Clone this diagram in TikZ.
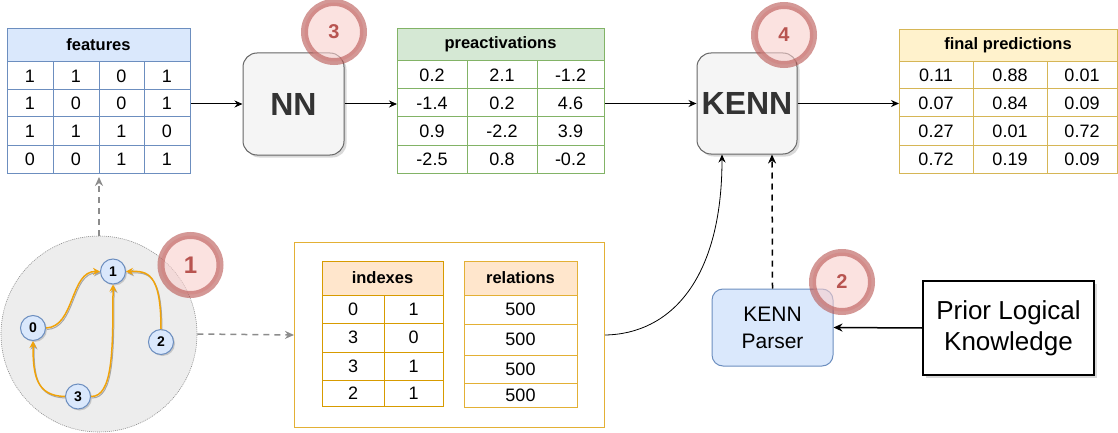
\documentclass[tikz,border=0pt]{standalone}
\usepackage{fontspec}
\setmainfont{Liberation Sans}
\usetikzlibrary{arrows.meta,shadows,calc}
\definecolor{blueF}{HTML}{DAE8FC}
\definecolor{blueS}{HTML}{6C8EBF}
\definecolor{greenF}{HTML}{D5E8D4}
\definecolor{greenS}{HTML}{82B366}
\definecolor{yelF}{HTML}{FFF2CC}
\definecolor{yelS}{HTML}{D6B656}
\definecolor{orF}{HTML}{FFE6CC}
\definecolor{orS}{HTML}{D79B00}
\definecolor{boxS}{HTML}{E3B035}
\definecolor{redF}{HTML}{F8CECC}
\definecolor{redS}{HTML}{B85450}
\definecolor{grayF}{HTML}{F5F5F5}
\definecolor{grayS}{HTML}{666666}
\definecolor{txt}{HTML}{333333}
\definecolor{edgeO}{HTML}{F0A30A}
\begin{document}
\begin{tikzpicture}[x=1pt,y=-1pt,
  line width=1pt,
  cell/.style={inner sep=0pt,font=\fontsize{18}{20}\selectfont},
  head/.style={inner sep=0pt,font=\fontsize{16.5}{18}\selectfont\bfseries},
  tbl/.style={inner sep=0pt,anchor=north west},
  arr/.style={draw=black,line width=1pt,-{Stealth[length=8pt,width=7pt]}},
  garr/.style={draw=black!45,line width=1.5pt,dash pattern=on 6pt off 5pt,-{Stealth[length=9pt,width=8pt]}},
  proc/.style={rounded corners=14pt,fill=grayF,draw=grayS,text=txt,font=\fontsize{32}{34}\selectfont\bfseries,
    drop shadow={shadow xshift=2.5pt,shadow yshift=-2.5pt,opacity=0.3}},
  badge/.style={circle,inner sep=0pt,minimum size=59pt,line width=7pt,fill=redF,draw=redS,
    fill opacity=0.6,draw opacity=0.6,text opacity=1,text=redS,font=\fontsize{20}{20}\selectfont\bfseries},
  gnode/.style={circle,inner sep=0pt,minimum size=25pt,fill=blueF,draw=blueS,
    font=\fontsize{14}{14}\selectfont\bfseries,drop shadow={shadow xshift=1.5pt,shadow yshift=-1.5pt,opacity=0.35}},
  gedge/.style={draw=edgeO,line width=1.5pt,-{Stealth[length=7pt,width=7pt]},
    preaction={draw=black!35,transform canvas={shift={(1pt,-1.5pt)}}}},
]
\useasboundingbox (0,0) rectangle (1118,433);

% ---------- features table ----------
\fill[blueF] (7,28) rectangle (190,62);
\node[tbl,draw=blueS,minimum width=183pt,minimum height=145pt] (feat) at (7,28) {};
\foreach \yy in {62,90,117,145} \draw[blueS] (7,\yy) -- (190,\yy);
\foreach \xx in {53,99,144} \draw[blueS] (\xx,62) -- (\xx,173);
\node[head] at (98.5,45) {features};
\foreach \yy/\a/\b/\c/\d in {76/1/1/0/1,103.5/1/0/0/1,131/1/1/1/0,159/0/0/1/1}{
  \node[cell] at (30,\yy) {\a};
  \node[cell] at (76,\yy) {\b};
  \node[cell] at (121.5,\yy) {\c};
  \node[cell] at (167,\yy) {\d};
}

% ---------- preactivations table ----------
\fill[greenF] (397,28) rectangle (604,61);
\node[tbl,draw=greenS,minimum width=207pt,minimum height=145pt] (pre) at (397,28) {};
\foreach \yy in {61,89,117,145} \draw[greenS] (397,\yy) -- (604,\yy);
\foreach \xx in {467,537} \draw[greenS] (\xx,61) -- (\xx,173);
\node[head] at (500.5,44.5) {preactivations};
\foreach \yy/\a/\b/\c in {75/0.2/2.1/-1.2,103/-1.4/0.2/4.6,131/0.9/-2.2/3.9,159/-2.5/0.8/-0.2}{
  \node[cell] at (432,\yy) {\a};
  \node[cell] at (502,\yy) {\b};
  \node[cell] at (570.5,\yy) {\c};
}

% ---------- final predictions table ----------
\fill[yelF] (899,29) rectangle (1117,62);
\node[tbl,draw=yelS,minimum width=218pt,minimum height=144pt] (fin) at (899,29) {};
\foreach \yy in {62,89,117,145} \draw[yelS] (899,\yy) -- (1117,\yy);
\foreach \xx in {973,1047} \draw[yelS] (\xx,62) -- (\xx,173);
\node[head] at (1008,45.5) {final predictions};
\foreach \yy/\a/\b/\c in {75.5/0.11/0.88/0.01,103/0.07/0.84/0.09,131/0.27/0.01/0.72,159/0.72/0.19/0.09}{
  \node[cell] at (936,\yy) {\a};
  \node[cell] at (1010,\yy) {\b};
  \node[cell] at (1082,\yy) {\c};
}

% ---------- processing boxes ----------
\node[proc,minimum width=101pt,minimum height=102pt] (nn) at (293.5,104) {NN};
\node[proc,minimum width=100pt,minimum height=101pt] (kenn) at (747,103.5) {KENN};

\draw[arr] (feat.east |- nn.west) -- (nn.west);
\draw[arr] (nn.east) -- (nn.east -| pre.west);
\draw[arr] (pre.east |- kenn.west) -- (kenn.west);
\draw[arr] (kenn.east) -- (kenn.east -| fin.west);

% ---------- graph ----------
\node[circle,inner sep=0pt,minimum size=196pt,fill=black!7,draw=black!45,line width=0.6pt,
  dash pattern=on 1pt off 1pt] (graph) at (99,334) {};
\node[gnode] (n1) at (113,271.5) {1};
\node[gnode] (n0) at (33,328) {0};
\node[gnode] (n2) at (161,342) {2};
\node[gnode] (n3) at (78,396.5) {3};
\draw[gedge] (n0.east) .. controls (75,327) and (70,271) .. (n1.west);
\draw[gedge] (n2.north) .. controls (161,272) and (147,271) .. (n1.east);
\draw[gedge] (n3.west) .. controls (36,396) and (33,375) .. (n0.south);
\draw[gedge] (n3.east) .. controls (113,397) and (113,350) .. (n1.south);

\draw[garr,shorten >=3pt] (graph.north) -- (graph.north |- feat.south);

% ---------- indexes / relations ----------
\node[tbl,draw=boxS,fill=white,minimum width=310pt,minimum height=185pt] (idx) at (294,242) {};
\draw[garr] (graph.east) -- (idx.west);

\fill[orF] (322,261) rectangle (443,295);
\node[tbl,draw=orS,minimum width=121pt,minimum height=145pt] (itab) at (322,261) {};
\foreach \yy in {295,323,352,380} \draw[orS] (322,\yy) -- (443,\yy);
\draw[orS] (384,295) -- (384,406);
\node[head] at (382.5,278) {indexes};
\foreach \yy/\a/\b in {309/0/1,337.5/3/0,366/3/1,393/2/1}{
  \node[cell] at (353,\yy) {\a};
  \node[cell] at (413.5,\yy) {\b};
}

\fill[orF] (464,261) rectangle (577,295);
\node[tbl,draw=boxS,minimum width=113pt,minimum height=146pt] (rtab) at (464,261) {};
\foreach \yy in {295,324,355,383} \draw[boxS] (464,\yy) -- (577,\yy);
\node[head] at (520.5,278) {relations};
\foreach \yy in {309.5,339.5,369,395} \node[cell] at (520.5,\yy) {500};

\draw[line width=0.8pt,-{Stealth[length=8pt,width=7pt]}] (idx.east) .. controls (670,334) and (722,280) .. ($(kenn.south)+(-25,0)$);

% ---------- parser and knowledge ----------
\node[rounded corners=11pt,fill=blueF,draw=blueS,minimum width=121pt,minimum height=77pt,align=center,
  font=\fontsize{21}{27}\selectfont] (parser) at (772.5,327.5) {KENN\\Parser};
\node[draw=black,line width=1.2pt,fill=white,minimum width=171pt,minimum height=94pt,align=center,
  font=\fontsize{26}{31}\selectfont,
  drop shadow={shadow xshift=2.5pt,shadow yshift=-2.5pt,opacity=0.3}] (plk) at (1008.5,328) {Prior Logical\\Knowledge};
\draw[line width=1.5pt,-{Stealth[length=9pt,width=8pt]}] (plk.west) -- (parser.east);
\draw[line width=1.5pt,dash pattern=on 6pt off 5pt,-{Stealth[length=9pt,width=8pt]}] (parser.north) -- ($(kenn.south)+(25,0)$);

% ---------- badges ----------
\node[badge,font=\fontsize{24}{24}\selectfont\bfseries] (b1) at (190.5,265) {1};
\node[badge] (b2) at (842,282) {2};
\node[badge] (b3) at (334,32) {3};
\node[badge] (b4) at (784,35) {4};
\end{tikzpicture}
\end{document}
